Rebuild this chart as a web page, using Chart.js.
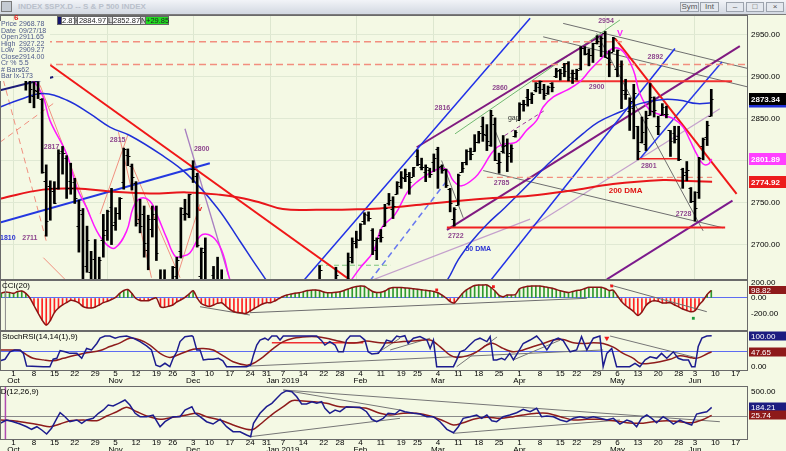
<!DOCTYPE html>
<html>
<head>
<meta charset="utf-8">
<title>$SPX daily</title>
<script src="https://cdn.jsdelivr.net/npm/chart.js@4.4.1/dist/chart.umd.min.js"></script>
<style>
html,body{margin:0;padding:0}
body{width:786px;height:451px;overflow:hidden;position:relative;background:#f4f9e4;font-family:"Liberation Sans",Arial,sans-serif}
canvas{position:absolute;left:0;display:block}
#bar{position:absolute;left:0;top:0;width:786px;height:15px;background:linear-gradient(#f2f4f8,#d2d8e1);border-bottom:1px solid #7b7b7b;box-sizing:border-box}
#bar .ico{position:absolute;left:1px;top:1px;width:11px;height:11px;border:1px solid #7a7a7a;background:#c4cad3;box-sizing:border-box}
#bar .ttl{position:absolute;left:18px;top:2px;font-size:8px;font-weight:bold;color:#b9c0cb;white-space:nowrap}
#bar .btn{position:absolute;top:2px;height:10px;border:1px solid #9ca3ad;background:#e4e8ee;box-sizing:border-box;font-size:8px;line-height:8px;text-align:center;color:#555}
#info{position:absolute;left:0;top:21px;width:50px;height:60px;background:#f4f9e4;font-size:7px;line-height:6.5px;color:#4d5a8a}
#info div{position:relative;height:6.5px;white-space:nowrap;padding-left:1px}
#info span{position:absolute;left:19px;top:0}
#six{position:absolute;left:14px;top:13px;font-size:8px;font-weight:bold;color:#e01818}
#strip{position:absolute;top:16px;height:9px;font-size:7.5px;line-height:9px}
#strip span{position:absolute;top:0;height:9px;box-sizing:border-box;border:1px solid #666;text-align:center;color:#222;background:#fff;line-height:7px}
</style>
</head>
<body>
<div id="bar">
  <div class="ico"></div>
  <div class="ttl">INDEX $SPX.D -- S &amp; P 500 INDEX</div>
  <div class="btn" style="left:680px;width:19px">Sym</div>
  <div class="btn" style="left:700px;width:19px">Int</div>
  <div class="btn" style="left:726px;width:18px">&#8211;</div>
  <div class="btn" style="left:746px;width:18px">&#9633;</div>
  <div class="btn" style="left:766px;width:18px">&#215;</div>
</div>

<canvas id="cMain" width="786" height="265" style="top:15px"></canvas>
<canvas id="cCci" width="786" height="51" style="top:280px"></canvas>
<canvas id="cStoch" width="786" height="56" style="top:331px"></canvas>
<canvas id="cMacd" width="786" height="65" style="top:386px"></canvas>

<div id="six">6</div>
<div id="info">
  <div>Price<span>2968.78</span></div>
  <div>Date<span>09/27/18</span></div>
  <div>Open<span>2911.65</span></div>
  <div>High<span>2927.22</span></div>
  <div>Low<span>2909.27</span></div>
  <div>Close<span>2914.00</span></div>
  <div>Cr %<span>5.5</span></div>
  <div># Bars<span>-62</span></div>
  <div>Bar Ix<span>-173</span></div>
</div>
<div id="strip">
  <span style="left:57px;width:5px;background:#14146e"></span>
  <span style="left:61px;width:14px">2.87</span>
  <span style="left:74px;width:4px;background:#d4d4d4">H</span>
  <span style="left:77px;width:31px">2884.97</span>
  <span style="left:107px;width:6px;background:#d4d4d4">L</span>
  <span style="left:112px;width:29px">2852.87</span>
  <span style="left:140px;width:6px;background:#d4d4d4">N</span>
  <span style="left:145px;width:24px;background:#22dd22">+29.85</span>
</div>

<script>
// ---- daily bars: first bar is Sep 26 2018 (trading-day index -3, Oct 1 2018 = 0) ----
const firstIdx = -3;
const opens = [2916,2912,2910,2926,2924,2932,2919,2902,2877,2883,2873,2776,2770,2764,2768,2812,2803,2776,2774,2722,2737,2675,2667,2683,2641,2705,2717,2745,2727,2738,2774,2807,2794,2773,2730,2737,2693,2718,2731,2654,2658,2633,2659,2663,2692,2736,2737,2790,2782,2663,2691,2630,2664,2658,2658,2630,2590,2559,2548,2496,2466,2401,2363,2442,2499,2498,2477,2491,2475,2536,2568,2580,2574,2588,2580,2585,2614,2610,2651,2657,2643,2638,2657,2644,2645,2654,2685,2702,2706,2728,2735,2717,2693,2712,2722,2750,2743,2760,2770,2779,2782,2780,2805,2793,2787,2789,2798,2814,2794,2790,2766,2731,2747,2787,2799,2811,2811,2822,2841,2831,2819,2844,2797,2812,2819,2809,2829,2849,2868,2876,2874,2884,2888,2886,2881,2892,2901,2908,2912,2916,2904,2898,2910,2934,2928,2926,2940,2937,2952,2922,2930,2909,2913,2880,2859,2863,2841,2822,2820,2855,2859,2841,2854,2856,2836,2833,2830,2790,2786,2767,2752,2763,2818,2828,2853];
const highs = [2931,2927,2920,2937,2931,2940,2920,2910,2894,2894,2874,2795,2776,2775,2813,2817,2806,2797,2779,2753,2743,2722,2692,2706,2685,2736,2741,2767,2744,2756,2815,2814,2796,2775,2754,2746,2735,2746,2746,2670,2670,2655,2674,2685,2744,2754,2760,2800,2785,2696,2708,2640,2674,2685,2670,2635,2601,2573,2600,2510,2504,2410,2468,2489,2520,2509,2519,2493,2538,2566,2579,2595,2597,2597,2589,2613,2625,2645,2675,2657,2653,2647,2673,2645,2650,2690,2708,2716,2725,2738,2739,2719,2708,2718,2748,2761,2757,2775,2787,2790,2786,2792,2813,2803,2795,2791,2808,2816,2795,2790,2767,2744,2784,2798,2813,2815,2831,2835,2852,2843,2860,2851,2809,2830,2826,2819,2836,2869,2872,2885,2881,2893,2895,2891,2889,2893,2910,2909,2916,2918,2908,2909,2936,2936,2933,2940,2949,2948,2954,2931,2947,2932,2919,2897,2875,2891,2841,2852,2859,2892,2876,2853,2868,2865,2836,2841,2841,2791,2799,2768,2763,2804,2827,2847,2885];
const lows = [2903,2909,2907,2917,2919,2921,2884,2869,2863,2874,2785,2710,2729,2749,2766,2784,2755,2760,2749,2691,2651,2667,2628,2604,2635,2685,2705,2700,2717,2730,2766,2794,2765,2722,2714,2685,2670,2709,2681,2631,2649,2631,2649,2655,2684,2729,2732,2774,2697,2621,2623,2583,2621,2650,2637,2593,2530,2528,2489,2441,2408,2351,2346,2397,2472,2482,2467,2443,2474,2524,2548,2568,2562,2581,2571,2585,2612,2606,2648,2617,2612,2627,2657,2627,2631,2648,2678,2696,2705,2724,2728,2688,2682,2703,2722,2747,2731,2760,2767,2775,2760,2781,2794,2789,2775,2780,2787,2767,2785,2768,2739,2722,2747,2786,2795,2801,2811,2821,2823,2812,2817,2800,2785,2809,2787,2798,2828,2849,2859,2865,2868,2882,2880,2873,2879,2882,2899,2896,2900,2895,2892,2896,2908,2926,2913,2917,2939,2924,2923,2900,2930,2900,2862,2873,2836,2826,2801,2821,2812,2854,2852,2831,2854,2851,2805,2821,2800,2767,2776,2750,2728,2755,2801,2818,2853];
const closes = [2906,2914,2914,2924,2923,2926,2902,2886,2884,2881,2786,2728,2767,2750,2809,2809,2768,2768,2756,2741,2656,2706,2658,2641,2682,2712,2740,2723,2738,2756,2814,2806,2781,2726,2722,2702,2730,2736,2690,2641,2649,2633,2673,2682,2744,2738,2760,2790,2700,2696,2633,2637,2636,2651,2651,2600,2546,2546,2507,2467,2417,2351,2468,2489,2486,2507,2510,2448,2532,2550,2574,2585,2597,2596,2583,2610,2616,2636,2670,2632,2639,2642,2664,2643,2640,2681,2704,2707,2724,2737,2732,2706,2708,2709,2744,2753,2746,2775,2780,2784,2775,2792,2796,2793,2792,2784,2803,2792,2789,2771,2749,2743,2783,2791,2811,2808,2822,2833,2832,2824,2855,2801,2798,2818,2805,2815,2834,2867,2867,2873,2879,2892,2895,2878,2888,2888,2907,2905,2907,2900,2905,2908,2934,2927,2926,2940,2943,2946,2924,2918,2946,2932,2884,2880,2871,2881,2812,2834,2851,2876,2860,2841,2864,2856,2823,2826,2802,2783,2789,2752,2744,2803,2826,2843,2873];

// moving averages: [trading-day index, value]
const ma10 = [[-3.3,2910],[0,2912],[3,2905],[6.9,2880],[8.9,2848],[13,2808],[15.5,2768],[17.9,2744],[20.4,2716],[22.8,2700],[24.9,2696],[27.7,2716],[29.3,2744],[31,2755],[33.4,2752],[35.1,2736],[37.5,2708],[39.6,2686],[41.2,2686],[43.2,2690],[45.7,2710],[47.7,2712],[49.8,2704],[51.4,2688],[52.6,2665],[55,2625],[60,2530],[65,2490],[70,2540],[75,2600],[80,2640],[82.5,2656],[84.9,2672],[88.2,2692],[90.2,2720],[93.5,2736],[96.7,2764],[99.2,2776],[101.6,2784],[104.1,2790],[106.2,2789],[107.8,2776],[109.8,2770],[113.1,2780],[115,2792],[117,2808],[118.5,2816],[120.4,2820],[123.2,2822],[125.7,2836],[128.2,2848],[129.8,2864],[132.3,2876],[135.6,2884],[138.8,2894],[141.3,2908],[143.7,2920],[147,2934],[149.4,2930],[151.9,2908],[153.5,2880],[156,2860],[159.2,2854],[161.7,2850],[164.1,2840],[165.8,2824],[167.4,2808],[169,2796],[170.3,2796],[171.1,2802]];
const ma50 = [[-3.3,2864],[1.6,2873],[7.2,2880],[13.1,2872],[18.7,2856],[23.6,2840],[28.5,2830],[35.9,2808],[42.5,2784],[49.9,2744],[55.5,2704],[59.9,2672],[64,2645],[70,2620],[80,2600],[90,2600],[98,2620],[103,2640],[106.2,2657],[109,2682],[112.3,2704],[116,2724],[120.4,2744],[126.6,2774],[131,2796],[135.2,2814],[139.5,2832],[143.3,2846],[148.6,2858],[153.5,2868],[159.2,2873],[163.3,2872],[167.5,2868],[171.2,2869]];
const ma200 = [[-3.3,2754.7],[7.2,2765.5],[15.5,2766.7],[23.6,2763.4],[33.4,2761],[42.5,2762.2],[50.6,2759.4],[55.5,2755.9],[60.4,2750.2],[66,2742.3],[74.4,2741.5],[82.4,2741.9],[89.8,2743.1],[101.3,2748.3],[109.4,2752.3],[117.5,2755.5],[126.6,2758.2],[136.4,2764.2],[146.9,2772.2],[159.2,2777],[163.3,2776.2],[171.2,2774.9]];

// drawn trend lines, end points as [trading-day index, price]
const trendPts = {
  res2942:[[7.7,2941.6],[149.1,2941.6]], res2915:[[7.7,2914.6],[180,2914.6]], sup2780:[[116,2780],[171.2,2780]],
  res2895:[[127.1,2894.6],[176.1,2894.6]], sup2720:[[106.2,2720.3],[174.4,2720.3]], sup2802:[[153,2802.2],[163.1,2802.2]],
  downMay:[[147.4,2945.7],[177.2,2760.3]], downOct:[[7.7,2918.5],[82.5,2657.8]],
  blueLong:[[-3.33,2726.3],[48.1,2796.9]], navyTop:[[-3.33,2883.9],[9.7,2899.8]],
  blueJan:[[71,2656.6],[126.6,2969.6]], blueDash:[[87.3,2656.6],[106.2,2776.2]],
  blueMar:[[116.8,2656.6],[162.1,2933.7]], blueMay:[[153.5,2802.2],[173.6,2917.7]],
  purpTop:[[98.8,2816],[144.5,2950.8]], greenTop:[[108.2,2832],[148.6,2967.6]],
  purpLow:[[106.2,2717.6],[178,2936.5]], purpBot:[[145.4,2658.6],[176.2,2752.3]], purpGap:[[120.4,2830],[130.2,2860]],
  grayTop1:[[134.7,2963.6],[180,2909.8]], grayTop2:[[129.8,2947.6],[180,2887.8]], grayFall:[[142.9,2951.7],[169,2716.4]],
  grayLow:[[115.1,2788.2],[173.9,2720]], grayMar:[[104.9,2800.1],[110.2,2732]], grayMar21:[[118,2836],[120.4,2808]],
  lavDec:[[42,2838],[52.6,2664.6]], lavMay:[[126.6,2720.3],[173.1,2862]], lavMar:[[87.3,2656.6],[126.6,2730.4]],
  greenJan:[[74.6,2675.4],[92.3,2675.4]],
  salDash1:[[-2.5,2895.8],[8.1,2702.4]], salDash2:[[-3.33,2822],[9.7,2868]], salTop:[[6.5,2889.8],[18.7,2734.3]],
  salX1:[[21.2,2736.4],[28.1,2832]], salX2:[[25.7,2834],[33.8,2660.5]], salX3:[[28.9,2796],[40.8,2660.5]],
  salV1:[[40,2660.5],[45.7,2748.3]], salBot:[[7.3,2684.4],[13,2656.6]]
};

// price annotations
const noteText = ['2817','2815','2800','2711','1810','2816','2860','2722','2785','2900','2954','2892','2801','2728','gap','200 DMA','50 DMA','V','v'];
const noteAt = [[9.3,2815.7],[25.5,2824],[46.1,2813.3],[4,2708],[-1.4,2708],[105.1,2862.3],[119.2,2886.2],[108.4,2710.4],[119.6,2773.8],[142.9,2887.4],[145.2,2966.4],[157.3,2923.3],[155.7,2793],[164.2,2736.7],[122.6,2850.4],[150,2764.2],[113.9,2694.9],[148.6,2952],[45.7,2742.7]];
const noteKind = ['lvl','lvl','lvl','lvl','blue','lvl','lvl','lvl','lvl','lvl','lvl','lvl','lvl','lvl','gap','red','blue','vMag','vRed'];

// CCI(20), one value per trading day from index -3
const cci = [65,78,72,61,85,91,61,0,-98,-196,-288,-353,-294,-190,-131,-91,-59,-30,-39,-65,-111,-128,-131,-118,-91,-61,-43,-20,7,61,98,111,59,-7,-33,-35,-35,-13,0,-114,-122,-108,-91,-52,-24,9,52,95,0,-72,-98,-111,-91,-69,-63,-105,-150,-180,-190,-196,-200,-170,-137,-108,-78,-61,-61,-39,-9,20,39,52,63,68,81,97,102,105,97,78,69,69,74,82,98,118,137,150,157,153,118,85,72,74,91,124,137,137,137,131,127,120,115,107,101,95,85,69,39,0,-46,-65,-7,59,105,137,163,170,170,170,137,91,33,17,39,39,46,120,140,153,157,157,157,148,137,128,111,95,82,72,85,98,105,124,140,140,140,140,124,98,101,26,-46,-98,-137,-179,-229,-183,-98,-52,-37,-43,-65,-65,-63,-91,-115,-144,-163,-179,-166,-91,-33,46,99];
const cciLines = [[[45.7,-114],[57.9,-222]],[[57.9,-192],[140.5,-4]],[[146.2,170],[169.9,-179]]];
const cciRedDots = [[103.7,105],[117.6,148],[146.6,157]];
const cciGreenDots = [[166.6,-265]];

// StochRSI(14,14(1),9)
const stochK = [[-3.3,19],[-2.1,24],[-0.9,48],[0.3,54],[1.6,54],[2.4,43],[3.2,2],[7.3,0],[8.9,0],[9.7,24],[10.6,27],[11.4,52],[12.6,48],[13.8,43],[15.5,43],[16.7,27],[17.9,59],[19.1,54],[20.4,75],[21.2,92],[22.4,99],[23.6,99],[24.9,92],[26.1,97],[27.7,99],[29.3,92],[31,81],[32.6,67],[33.8,54],[34.9,5],[35.9,0],[37.1,11],[38.3,0],[39.1,27],[40,48],[40.8,81],[42,97],[43.7,100],[44,97],[44.9,54],[45.7,54],[46.5,22],[47.7,24],[48.9,24],[50.2,27],[51.3,19],[52.2,0],[57.1,0],[58.1,5],[58.8,38],[59.6,70],[60.4,86],[61.6,92],[62.4,86],[63.3,99],[64.5,99],[65.3,86],[66.1,99],[74.3,99],[75.5,84],[76.3,70],[77.5,81],[78.8,70],[79.6,48],[80.8,48],[81.6,86],[82.5,99],[84.9,99],[86.1,86],[86.9,48],[87.8,41],[89.4,43],[90.6,65],[91.4,86],[92.7,81],[93.9,99],[94.7,96],[95.9,100],[96.7,75],[98,92],[99.6,97],[101.3,86],[102.1,59],[102.9,86],[103.7,0],[107.8,0],[108.6,22],[109.4,48],[110.6,54],[111.8,70],[113.1,86],[114.3,92],[116,81],[116.8,97],[117.6,22],[118.4,22],[119.6,27],[120.4,22],[121.6,43],[122.5,22],[123.7,48],[124.9,75],[126.6,86],[128.2,99],[129.4,81],[130.7,54],[132.3,86],[133.5,92],[134.7,84],[136.4,48],[138,54],[139.2,97],[140.5,54],[142.1,92],[143.7,99],[144.5,0],[145.4,43],[146.6,59],[147.8,0],[151,0],[152.3,11],[153.5,0],[154.8,22],[156,32],[157.6,27],[158.8,43],[160.1,27],[161.7,48],[162.9,27],[164.1,22],[165.4,22],[166.2,0],[167,0],[167.8,65],[168.7,92],[169.9,99],[171.1,100]];
const stochD = [[-3.3,54],[-0.1,54],[1.6,52],[3.2,38],[4.8,27],[7.3,22],[9.7,19],[12.2,27],[14.6,35],[17.9,45],[21.2,52],[23.6,65],[26.1,77],[28.5,92],[31,86],[33.4,70],[35.9,43],[38.3,30],[40.8,41],[44,56],[46.5,59],[48.9,54],[51.4,35],[53.8,16],[57.1,5],[58.8,11],[61.2,32],[63.7,59],[66.1,81],[68.6,92],[71.8,97],[74.3,97],[76.7,92],[79.2,84],[81.6,77],[84.1,77],[86.5,83],[89.8,77],[92.3,77],[95.5,81],[98.8,84],[102.1,86],[104.5,65],[106.9,38],[108.6,30],[111.1,35],[113.5,48],[116,70],[117.6,75],[120,59],[122.5,48],[124.9,54],[127.4,65],[129.8,75],[132.3,86],[134.7,88],[137.2,77],[139.6,75],[142.1,77],[144.5,75],[147,63],[149.4,43],[151.9,27],[153.5,11],[156,11],[158.4,16],[160.9,24],[163.3,35],[165.8,30],[167,27],[168.2,30],[169.9,41],[171.1,47.65]];
const stochLines = [[[57.9,2],[144.5,54]],[[89,43],[94.7,92]],[[92.3,54],[102.1,92]],[[108.6,0],[118.5,96]],[[122.5,22],[134,86]],[[146.2,99],[167,30]]];
const stochRedLine = [[63.3,77],[85.7,77]];
const stochMarks = [[145.4,92]];

// MACD(12,26,9)
const macd = [[-3.3,-131],[-1.7,-65],[-0.1,-99],[1.6,-145],[3.2,-198],[4.4,-249],[5.7,-198],[6.9,-263],[8.1,-343],[9.3,-230],[10.6,-32],[11.4,79],[12.6,0],[13.8,-99],[15.5,-65],[16.7,-131],[17.9,-65],[19.5,-32],[20.8,67],[22,133],[23.2,232],[24.4,212],[25.7,265],[27.3,331],[28.5,232],[29.8,67],[31,0],[32.6,0],[34.2,34],[35.9,-198],[37.1,-99],[39.1,0],[40.8,0],[42,133],[43.7,198],[44.5,67],[45.7,0],[47.3,-99],[48.9,-145],[50.6,-51],[52.2,-198],[53.8,-297],[55.5,-297],[57.1,-362],[58.1,-396],[58.8,-131],[60.4,67],[62,198],[63.3,265],[64.5,364],[65.7,463],[66.9,515],[68.2,495],[69.4,396],[70.6,251],[71.8,251],[73.1,297],[74.3,265],[75.5,297],[76.3,166],[77.5,67],[78.8,133],[80,99],[81.6,198],[83.3,186],[84.9,186],[86.5,99],[87.8,-51],[89,-99],[90.6,-32],[91.8,67],[93.5,53],[94.7,133],[95.9,99],[98,67],[99.6,53],[101.3,0],[102.9,0],[104.5,-99],[106.2,-249],[107.8,-317],[109,-198],[110.2,-32],[111.9,0],[113.5,34],[114.7,-32],[116,34],[117.2,-79],[118.4,-99],[120,0],[121.6,34],[123.3,79],[124.9,147],[126.6,99],[128.2,166],[129.4,0],[130.7,14],[132.3,0],[134,-65],[135.6,-99],[137.2,-32],[138.8,0],[140.5,-32],[142.1,0],[143.7,-32],[145.4,-65],[147,-32],[148.6,-145],[150.3,-65],[151.5,-99],[152.7,-198],[153.9,-32],[155.2,34],[156.4,-32],[157.6,-119],[159.2,0],[160.5,-65],[161.7,-145],[163.3,-65],[165,-131],[166.2,-164],[167.4,53],[168.7,79],[169.9,99],[171.1,184.21]];
const macdSig = [[-3.3,-65],[-0.1,-79],[3.2,-119],[6.5,-164],[8.9,-198],[11.4,-145],[13.8,-79],[17.1,-65],[20.4,-79],[22.8,14],[25.3,99],[27.7,186],[30.2,99],[32.6,14],[35.9,-51],[39.1,-12],[42.4,34],[44.9,67],[47.3,0],[50.6,-65],[53.8,-164],[57.1,-249],[58.8,-249],[61.2,-99],[63.7,67],[66.1,198],[68.2,317],[70.2,317],[73.5,297],[76.7,265],[80,198],[83.3,186],[86.5,166],[89.8,67],[92.3,34],[95.5,67],[98.8,67],[102.1,14],[105.3,-79],[107.8,-164],[110.2,-119],[112.7,-51],[116,-12],[119.2,-32],[122.5,0],[124.9,34],[128.2,67],[130.7,67],[134,0],[137.2,-65],[140.5,-51],[143.7,-51],[147,-79],[150.3,-119],[153.5,-131],[156.8,-99],[160.1,-79],[163.3,-99],[166.2,-119],[168.7,-65],[171.1,25.74]];
const macdLines = [[[66.1,529],[173.1,-99]],[[66.1,529],[94.7,133]],[[57.9,-396],[94.7,-32]],[[107.8,-329],[148.6,-65]]];

// axis labels
const weekIdx = [0,5,10,15,20,25,30,35,39,44,48,53,58,62,66,71,76,80,85,90,95,99,104,109,114,119,124,129,134,138,143,148,153,158,163,167,172,177];
const weekDay = ['1','8','15','22','29','5','12','19','26','3','10','17','24','31','7','14','22','28','4','11','19','25','4','11','18','25','1','8','15','22','29','6','13','20','28','3','10','17'];
const monthAt = {0:'Oct',25:'Nov',44:'Dec',66:'Jan 2019',85:'Feb',104:'Mar',124:'Apr',148:'May',167:'Jun'};
const monthStart = [0,23,44,63,84,103,124,145,167];
const cursorIdx = -2;

// last values shown in the right-hand boxes
const lastClose = 2873.34, lastMa50 = 2869.5, lastMa10 = 2801.89, lastMa200 = 2774.92;
const lastCci = 98.82, lastK = 100, lastD = 47.65, lastMacd = 184.21, lastSig = 25.74;

// ---------------------------------------------------------------
const X_MIN = -3.33, X_MAX = 180, AXIS_W = 38;
const FONT = '"Liberation Sans", Arial, sans-serif';
Chart.defaults.font.family = FONT;
Chart.defaults.font.size = 8;
Chart.defaults.color = '#000';

const trendStyle = {
  res2942:['#f28e7e',1.5,[7,4]], res2915:['#f28e7e',1.5,[7,4]], sup2780:['#f28e7e',1.2,[6,4]],
  res2895:['#f03030',2], sup2720:['#f02020',2], sup2802:['#f02020',1.5],
  downMay:['#f01818',2], downOct:['#f01818',2],
  blueLong:['#2438e0',2], navyTop:['#1b1b78',2],
  blueJan:['#2030e8',1.5], blueDash:['#6878f0',1.5,[6,4]], blueMar:['#2030e8',1.5], blueMay:['#2a3ae8',1.5],
  purpTop:['#801a80',2], greenTop:['#70b870',1], purpLow:['#801a80',2], purpBot:['#7c1a8c',2], purpGap:['#9a3a9a',1,[4,3]],
  grayTop1:['#6e6e6e',1], grayTop2:['#6e6e6e',1], grayFall:['#6e6e6e',1], grayLow:['#6e6e6e',1], grayMar:['#6e6e6e',1], grayMar21:['#6e6e6e',1],
  lavDec:['#a77fc0',1.3], lavMay:['#c4a0cc',1.2], lavMar:['#c4a0cc',1.2], greenJan:['#7cc47c',1.2,[5,3]],
  salDash1:['#f0907f',1,[6,4]], salDash2:['#f0907f',1,[6,4]], salTop:['#f0907f',1],
  salX1:['#f0907f',1], salX2:['#f0907f',1], salX3:['#f0907f',1], salV1:['#f0907f',1], salBot:['#f0907f',1]
};
const noteStyle = {
  lvl:['bold 7px ' + FONT,'#8e478e'], blue:['bold 7px ' + FONT,'#2a32d2'], gap:['7px ' + FONT,'#333'],
  red:['bold 8px ' + FONT,'#e01414'], vMag:['bold 9px ' + FONT,'#ff22ff'], vRed:['bold 8px ' + FONT,'#e42020']
};

const pts = arr => arr.map(p => ({ x: p[0], y: p[1] }));
function lineDs(arr, color, width, dash, tension) {
  return { type: 'line', data: pts(arr), borderColor: color, borderWidth: width, borderDash: dash || [],
           pointRadius: 0, pointHoverRadius: 0, tension: tension || 0, fill: false, order: 2 };
}
// no extra padding for edge tick labels: every panel keeps its exact plot box
function noPad(s) { s.paddingTop = 0; s.paddingBottom = 0; s.paddingLeft = 0; s.paddingRight = 0; }
function xAxis(extra) {
  return Object.assign({
    type: 'linear', min: X_MIN, max: X_MAX, offset: false,
    border: { display: false },
    grid: { display: false, drawTicks: false, offset: false },
    ticks: { display: false },
    afterFit: s => { s.height = 0; noPad(s); }
  }, extra || {});
}
function dateAxis(h) {
  return {
    type: 'linear', min: X_MIN, max: X_MAX, offset: false,
    border: { display: false },
    grid: { display: false, drawTicks: false, offset: false },
    ticks: {
      autoSkip: false, maxRotation: 0, minRotation: 0, padding: 0, color: '#000',
      font: { size: 8, lineHeight: 0.8 },
      callback: v => {
        const i = weekIdx.indexOf(v);
        if (i < 0) return '';
        return monthAt[v] ? [weekDay[i], monthAt[v]] : weekDay[i];
      }
    },
    afterBuildTicks: s => { s.ticks = weekIdx.map(v => ({ value: v })); },
    afterFit: s => { s.height = h; noPad(s); }
  };
}
function yAxis(min, max, ticks, gridColor) {
  return {
    position: 'right', min: min, max: max,
    border: { display: false },
    grid: { drawTicks: false, color: c => (c.tick ? gridColor(c.tick.value) : 'transparent') },
    ticks: { padding: 3, color: '#000', font: { size: 8 }, callback: v => v.toFixed(2) },
    afterBuildTicks: s => { s.ticks = ticks.map(v => ({ value: v })); },
    afterFit: s => { s.width = AXIS_W; noPad(s); }
  };
}

// frame + panel title
const frame = {
  id: 'frame',
  afterDraw(chart, args, o) {
    const { ctx, chartArea: a } = chart;
    ctx.save();
    ctx.strokeStyle = '#6a6a6a';
    ctx.lineWidth = 1;
    ctx.strokeRect(a.left + 0.5, a.top + 0.5, a.width - 1, a.height - 1);
    if (o.title) {
      ctx.fillStyle = '#000';
      ctx.font = '8px ' + FONT;
      ctx.textBaseline = 'middle';
      ctx.fillText(o.title, a.left + (o.titleX || 2), a.top + 5.5);
    }
    ctx.restore();
  }
};
// coloured last-value boxes on the right axis
const valueBoxes = {
  id: 'valueBoxes',
  afterDraw(chart, args, o) {
    const { ctx, scales: { y } } = chart;
    ctx.save();
    (o.items || []).forEach(b => {
      const py = Math.round(y.getPixelForValue(b.v));
      ctx.fillStyle = b.bg;
      ctx.fillRect(749, py - b.h / 2, 37, b.h);
      ctx.fillStyle = b.fg;
      ctx.font = (b.bold ? 'bold ' : '') + '8px ' + FONT;
      ctx.textBaseline = 'middle';
      ctx.fillText(b.v.toFixed(2), 751, py + 0.5);
    });
    ctx.restore();
  }
};
// open / close ticks of the bars
const ohlcTicks = {
  id: 'ohlcTicks',
  afterDatasetsDraw(chart) {
    const { ctx, chartArea: a, scales: { x, y } } = chart;
    ctx.save();
    ctx.beginPath(); ctx.rect(a.left, a.top, a.width, a.height); ctx.clip();
    ctx.strokeStyle = '#000'; ctx.lineWidth = 1;
    ctx.beginPath();
    opens.forEach((o, k) => {
      const px = Math.round(x.getPixelForValue(firstIdx + k));
      const po = Math.round(y.getPixelForValue(o)) + 0.5;
      const pc = Math.round(y.getPixelForValue(closes[k])) + 0.5;
      ctx.moveTo(px - 2.5, po); ctx.lineTo(px, po);
      ctx.moveTo(px, pc); ctx.lineTo(px + 2.5, pc);
    });
    ctx.stroke();
    ctx.restore();
  }
};
// text annotations in data coordinates
const notes = {
  id: 'notes',
  afterDatasetsDraw(chart) {
    const { ctx, scales: { x, y } } = chart;
    ctx.save();
    ctx.textAlign = 'center'; ctx.textBaseline = 'middle';
    noteText.forEach((t, i) => {
      const st = noteStyle[noteKind[i]];
      ctx.font = st[0]; ctx.fillStyle = st[1];
      ctx.fillText(t, x.getPixelForValue(noteAt[i][0]), y.getPixelForValue(noteAt[i][1]));
    });
    ctx.restore();
  }
};

const base = {
  responsive: false, animation: false, events: [], devicePixelRatio: 1,
  layout: { padding: 0, autoPadding: false }
};

// ---- price panel ----
const mainSets = [
  { type: 'bar', data: lows.map((l, k) => ({ x: firstIdx + k, y: [l, highs[k]] })),
    backgroundColor: '#000', barThickness: 2, grouped: false, order: 0 },
  lineDs(ma200, '#e8161b', 2, null, 0.4),
  lineDs(ma50, '#1f2fd8', 1.5, null, 0.4),
  lineDs(ma10, '#ff18ff', 1.5, null, 0.4)
];
Object.keys(trendPts).forEach(k => {
  const s = trendStyle[k];
  mainSets.push(lineDs(trendPts[k], s[0], s[1], s[2]));
});
new Chart(document.getElementById('cMain'), {
  type: 'bar',
  data: { datasets: mainSets },
  options: Object.assign({}, base, {
    plugins: {
      legend: { display: false }, tooltip: { enabled: false },
      frame: {},
      valueBoxes: { items: [
        { v: lastMa50, bg: '#1f2fd8', fg: '#fff', h: 11 },
        { v: lastClose, bg: '#000', fg: '#fff', h: 12, bold: true },
        { v: lastMa10, bg: '#ff40ff', fg: '#fff', h: 12, bold: true },
        { v: lastMa200, bg: '#ec1c1c', fg: '#fff', h: 12, bold: true }
      ] }
    },
    scales: {
      x: xAxis({
        grid: { display: true, drawTicks: false, offset: false, color: '#dde7cf' },
        afterBuildTicks: s => { s.ticks = monthStart.map(v => ({ value: v })); }
      }),
      y: yAxis(2657.8, 2973.6, [2700, 2750, 2800, 2850, 2900, 2950], () => '#e0e9d3')
    }
  }),
  plugins: [ohlcTicks, notes, frame, valueBoxes]
});

// ---- CCI panel ----
const cciSets = [
  { type: 'bar', data: cci.map((v, k) => ({ x: firstIdx + k, y: v })),
    backgroundColor: cci.map(v => (v >= 0 ? '#2f9a2f' : '#ff2020')), barThickness: 1, grouped: false, order: 3 },
  lineDs([[cursorIdx, -431], [cursorIdx, 235]], '#8a8a8a', 1),
  lineDs(cci.map((v, k) => [firstIdx + k, v]), '#8b1414', 1.5, null, 0.3)
];
cciLines.forEach(l => cciSets.push(lineDs(l, '#6e6e6e', 1)));
cciSets.push({ type: 'line', data: pts(cciRedDots), showLine: false, pointStyle: 'rect', pointRadius: 2, pointHoverRadius: 0,
               pointBackgroundColor: '#f01a1a', pointBorderWidth: 0, order: 0 });
cciSets.push({ type: 'line', data: pts(cciGreenDots), showLine: false, pointStyle: 'rect', pointRadius: 2, pointHoverRadius: 0,
               pointBackgroundColor: '#1a9a3a', pointBorderWidth: 0, order: 0 });
new Chart(document.getElementById('cCci'), {
  type: 'bar',
  data: { datasets: cciSets },
  options: Object.assign({}, base, {
    plugins: { legend: { display: false }, tooltip: { enabled: false },
      frame: { title: 'CCI(20)' },
      valueBoxes: { items: [{ v: lastCci, bg: '#8e1a1a', fg: '#fff', h: 8 }] } },
    scales: {
      x: xAxis(),
      y: yAxis(-431, 235, [200, 0, -200], v => (v === 0 ? '#5d6cf2' : 'transparent'))
    }
  }),
  plugins: [frame, valueBoxes]
});

// ---- StochRSI panel ----
const stochSets = [
  lineDs(stochK, '#1c1c8e', 1.5),
  lineDs(stochD, '#8e1c1c', 1.5, null, 0.3),
  lineDs(stochRedLine, '#f03030', 1.5)
];
stochLines.forEach(l => stochSets.push(lineDs(l, '#767676', 1)));
stochSets.push({ type: 'line', data: pts(stochMarks), showLine: false, pointStyle: 'triangle', rotation: 180,
                 pointRadius: 3, pointHoverRadius: 0, pointBackgroundColor: '#f01a1a', pointBorderWidth: 0, order: 0 });
new Chart(document.getElementById('cStoch'), {
  type: 'line',
  data: { datasets: stochSets },
  options: Object.assign({}, base, {
    plugins: { legend: { display: false }, tooltip: { enabled: false },
      frame: { title: 'StochRSI(14,14(1),9)' },
      valueBoxes: { items: [
        { v: lastK, bg: '#1c1c80', fg: '#fff', h: 9 },
        { v: lastD, bg: '#8e1a1a', fg: '#fff', h: 9 }
      ] } },
    scales: {
      x: dateAxis(16),
      y: yAxis(-13.9, 115.2, [100, 50, 0], v => (v === 50 ? '#5d6cf2' : 'transparent'))
    }
  }),
  plugins: [frame, valueBoxes]
});

// ---- MACD panel ----
const macdSets = [
  lineDs(macd, '#1c1c8e', 1.5),
  lineDs(macdSig, '#8e1c1c', 1.5, null, 0.3),
  lineDs([[cursorIdx, -461], [cursorIdx, 608]], '#b04cb0', 1.5)
];
macdLines.forEach(l => macdSets.push(lineDs(l, '#767676', 1)));
new Chart(document.getElementById('cMacd'), {
  type: 'line',
  data: { datasets: macdSets },
  options: Object.assign({}, base, {
    plugins: { legend: { display: false }, tooltip: { enabled: false },
      frame: { title: 'MACD(12,26,9)', titleX: -17 },
      valueBoxes: { items: [
        { v: lastMacd, bg: '#1c1c80', fg: '#fff', h: 9 },
        { v: lastSig, bg: '#8e1a1a', fg: '#fff', h: 9 }
      ] } },
    scales: {
      x: dateAxis(11),
      y: yAxis(-461, 608, [500, 0], v => (v === 0 ? '#8a8a8a' : 'transparent'))
    }
  }),
  plugins: [frame, valueBoxes]
});
</script>
</body>
</html>
